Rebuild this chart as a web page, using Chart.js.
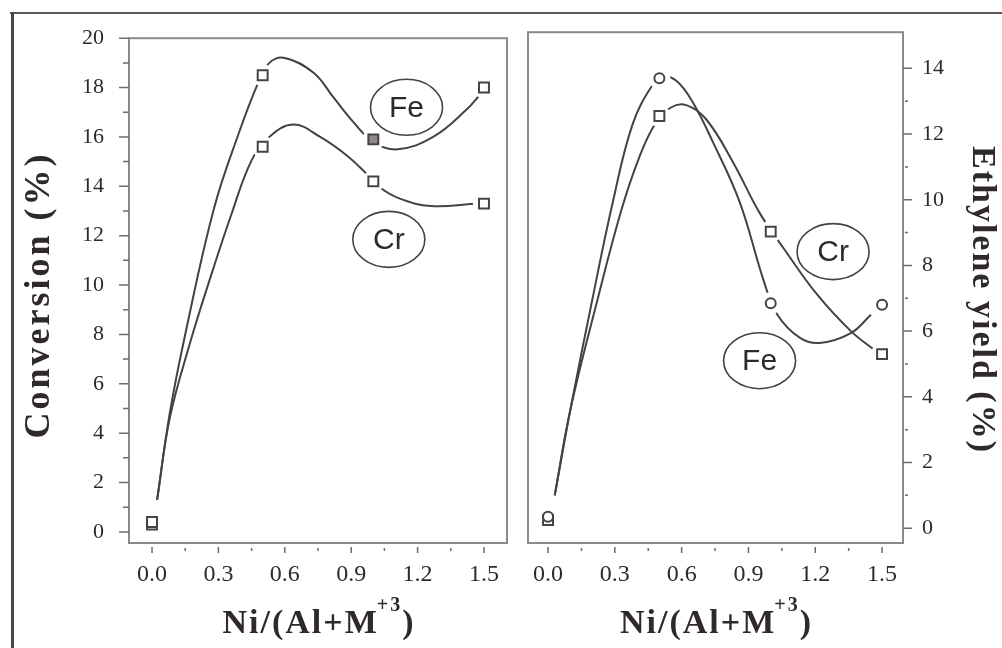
<!DOCTYPE html>
<html lang="en">
<head>
<meta charset="UTF-8">
<title>Conversion and ethylene yield vs Ni/(Al+M+3)</title>
<script src="https://cdn.jsdelivr.net/npm/chart.js"></script>
<style>
  html, body { margin: 0; padding: 0; background: #fff; }
  #wrap { position: relative; width: 1002px; height: 648px; overflow: hidden; background: #fff; }
  .frame-top { position: absolute; left: 10px; top: 12px; width: 992px; height: 2px; background: #5a5558; }
  .frame-left { position: absolute; left: 11px; top: 12px; width: 3px; height: 636px; background: #4a4548; }
  #conv { position: absolute; left: 0; top: 0; }
  #yield { position: absolute; left: 515px; top: 0; }
</style>
</head>
<body>
<div id="wrap">
  <div class="frame-top"></div>
  <div class="frame-left"></div>
  <canvas id="conv" width="520" height="648"></canvas>
  <canvas id="yield" width="487" height="648"></canvas>
</div>
<script>
// Ni/(Al+M+3) ratio of the samples
const ratio = [0.0, 0.5, 1.0, 1.5];
const xTicks = [0.0, 0.3, 0.6, 0.9, 1.2, 1.5];
const convTicks = [0, 2, 4, 6, 8, 10, 12, 14, 16, 18, 20];
const yieldTicks = [0, 2, 4, 6, 8, 10, 12, 14];

// measured points
const convFe = [0.4, 18.5, 15.9, 18.0];
const convCr = [0.3, 15.6, 14.2, 13.3];
const yieldFe = [0.35, 13.7, 6.85, 6.8];
const yieldCr = [0.25, 12.55, 9.03, 5.3];

// hand-drawn trend curves through the points
const convFeCurveX = [0.023, 0.08, 0.15, 0.28, 0.39, 0.48, 0.53, 0.60, 0.73, 0.82, 0.91, 1.00, 1.11, 1.27, 1.42, 1.49];
const convFeCurveY = [1.3, 4.8, 8.0, 13.1, 16.1, 18.2, 19.0, 19.2, 18.6, 17.6, 16.6, 15.8, 15.5, 16.0, 17.1, 17.8];
const convCrCurveX = [0.023, 0.08, 0.17, 0.26, 0.36, 0.45, 0.53, 0.64, 0.76, 0.88, 0.97, 1.03, 1.12, 1.26, 1.47];
const convCrCurveY = [1.3, 4.6, 7.6, 10.2, 12.9, 15.05, 16.0, 16.5, 16.0, 15.25, 14.5, 13.95, 13.5, 13.2, 13.3];
const yieldFeCurveX = [0.03, 0.10, 0.20, 0.29, 0.38, 0.47, 0.52, 0.58, 0.65, 0.74, 0.86, 0.97, 1.03, 1.13, 1.22, 1.36, 1.45];
const yieldFeCurveY = [1.0, 3.6, 7.0, 9.9, 12.3, 13.5, 13.75, 13.6, 12.97, 11.76, 9.94, 7.5, 6.5, 5.8, 5.64, 5.94, 6.5];
const yieldCrCurveX = [0.03, 0.10, 0.22, 0.33, 0.41, 0.48, 0.55, 0.62, 0.71, 0.83, 0.95, 1.06, 1.21, 1.36, 1.47];
const yieldCrCurveY = [1.0, 3.6, 6.9, 9.7, 11.3, 12.3, 12.8, 12.88, 12.45, 11.15, 9.6, 8.5, 7.1, 6.0, 5.4];

// circled series names: [text, x, y]
const convTags = [['Fe', 1.15, 17.2], ['Cr', 1.07, 11.85]];
const yieldTags = [['Cr', 1.28, 8.42], ['Fe', 0.95, 5.1]];

const INK = '#2f292d';
const LINE = '#464244';
const BOX = '#8d898b';
const SERIF = '"Liberation Serif", "Times New Roman", serif';

const pts = (xs, ys) => xs.map((v, i) => ({ x: v, y: ys[i] }));

function marks(xs, ys, style, fill) {
  return {
    data: pts(xs, ys), showLine: false, order: 0,
    pointStyle: style, pointRadius: style === 'rect' ? 7 : 5,
    pointBorderWidth: 2, pointBorderColor: LINE,
    pointBackgroundColor: fill || '#fff'
  };
}
// white clearing round each point so the curves stop short of it
function halo(xs, ys) {
  return {
    data: pts(xs, ys), showLine: false, order: 1,
    pointStyle: 'circle', pointRadius: 11,
    pointBorderWidth: 0, pointBackgroundColor: '#fff'
  };
}
function curve(xs, ys) {
  return {
    data: pts(xs, ys), showLine: true, order: 2,
    pointRadius: 0, borderColor: LINE, borderWidth: 2, tension: 0.4
  };
}

// box, detached tick marks, circled names and axis titles
const panelDecor = {
  id: 'panelDecor',
  afterDraw(chart, args, o) {
    const { ctx, chartArea: a, scales: { x, y } } = chart;
    ctx.save();
    ctx.strokeStyle = BOX;
    ctx.lineWidth = 2;
    ctx.strokeRect(a.left, a.top, a.right - a.left, a.bottom - a.top);

    ctx.strokeStyle = '#6f6a6d';
    ctx.lineWidth = 1.5;
    ctx.beginPath();
    xTicks.forEach((v, i) => {
      const px = x.getPixelForValue(v);
      ctx.moveTo(px, a.bottom + 4); ctx.lineTo(px, a.bottom + 10);
      if (i < xTicks.length - 1) {
        const mx = x.getPixelForValue(v + 0.15);
        ctx.moveTo(mx, a.bottom + 5); ctx.lineTo(mx, a.bottom + 8);
      }
    });
    o.yTicks.forEach((v, i) => {
      const py = y.getPixelForValue(v);
      const my = y.getPixelForValue(v + 1);
      if (o.side === 'left') {
        ctx.moveTo(a.left - 10, py); ctx.lineTo(a.left, py);
        if (i < o.yTicks.length - 1) { ctx.moveTo(a.left - 6, my); ctx.lineTo(a.left, my); }
      } else {
        ctx.moveTo(a.right, py); ctx.lineTo(a.right + 9, py);
        if (i < o.yTicks.length - 1) { ctx.moveTo(a.right + 2, my); ctx.lineTo(a.right + 5, my); }
      }
    });
    ctx.stroke();

    ctx.strokeStyle = LINE;
    ctx.fillStyle = INK;
    ctx.lineWidth = 1.6;
    ctx.font = '30px "Liberation Sans", Arial, sans-serif';
    ctx.textAlign = 'center';
    ctx.textBaseline = 'middle';
    o.tags.forEach(([t, tx, ty]) => {
      const cx = x.getPixelForValue(tx), cy = y.getPixelForValue(ty);
      ctx.beginPath();
      ctx.ellipse(cx, cy, 36, 28, 0, 0, Math.PI * 2);
      ctx.stroke();
      ctx.fillText(t, cx, cy + 1);
    });

    // x title with superscript charge
    const base = 633;
    const cx = (a.left + a.right) / 2 + 2;
    ctx.textAlign = 'left';
    ctx.textBaseline = 'alphabetic';
    ctx.letterSpacing = '2px';
    const big = 'bold 34px ' + SERIF, small = 'bold 20px ' + SERIF;
    ctx.font = big;
    const w1 = ctx.measureText('Ni/(Al+M').width;
    const w3 = ctx.measureText(')').width;
    ctx.font = small;
    const w2 = ctx.measureText('+3').width;
    let tx = cx - (w1 + w2 + w3) / 2;
    ctx.font = big; ctx.fillText('Ni/(Al+M', tx, base); tx += w1;
    ctx.font = small; ctx.fillText('+3', tx - 2, base - 22); tx += w2;
    ctx.font = big; ctx.fillText(')', tx - 2, base);

    // y title
    ctx.save();
    ctx.letterSpacing = o.titleSpacing;
    ctx.font = 'bold ' + o.titleSize + 'px ' + SERIF;
    ctx.textAlign = 'center';
    ctx.textBaseline = 'middle';
    ctx.translate(o.titleX, o.titleY);
    ctx.rotate(o.side === 'left' ? -Math.PI / 2 : Math.PI / 2);
    ctx.fillText(o.title, 0, 0);
    ctx.restore();
    ctx.restore();
  }
};

function baseOptions(xMin, xMax, yMin, yMax, yTickList, side, padding, yWidth, yPad) {
  return {
    responsive: false,
    animation: false,
    events: [],
    layout: { padding },
    plugins: { legend: { display: false }, tooltip: { enabled: false } },
    scales: {
      x: {
        type: 'linear', min: xMin, max: xMax,
        grid: { display: false, drawTicks: false }, border: { display: false },
        afterBuildTicks: s => { s.ticks = xTicks.map(v => ({ value: v })); },
        afterFit: s => { s.height = 105; },
        ticks: { padding: 17, color: INK, font: { family: SERIF, size: 24 }, callback: v => v.toFixed(1) }
      },
      y: {
        type: 'linear', position: side, min: yMin, max: yMax,
        grid: { display: false, drawTicks: false }, border: { display: false },
        afterBuildTicks: s => { s.ticks = yTickList.map(v => ({ value: v })); },
        afterFit: s => { s.width = yWidth; },
        ticks: { padding: yPad, color: INK, font: { family: SERIF, size: 22 } }
      }
    }
  };
}

const convOpts = baseOptions(-0.104, 1.604, -0.45, 20, convTicks, 'left',
  { top: 28, right: 13, left: 0, bottom: 0 }, 129, 25);
convOpts.plugins.panelDecor = {
  side: 'left', yTicks: convTicks, tags: convTags,
  title: 'Conversion (%)', titleX: 40, titleY: 295, titleSize: 36, titleSpacing: '3px'
};
new Chart(document.getElementById('conv'), {
  type: 'scatter',
  data: {
    datasets: [
      marks(ratio, convFe, 'rect', ['#fff', '#fff', '#8e8a8c', '#fff']),
      marks(ratio, convCr, 'rect'),
      halo(ratio, convFe),
      halo(ratio, convCr),
      curve(convFeCurveX, convFeCurveY),
      curve(convCrCurveX, convCrCurveY)
    ]
  },
  options: convOpts,
  plugins: [panelDecor]
});

const yieldOpts = baseOptions(-0.09, 1.594, -0.45, 15.1, yieldTicks, 'right',
  { top: 29, right: 0, left: 13, bottom: 0 }, 99, 19);
yieldOpts.plugins.panelDecor = {
  side: 'right', yTicks: yieldTicks, tags: yieldTags,
  title: 'Ethylene yield (%)', titleX: 467, titleY: 300, titleSize: 34, titleSpacing: '2px'
};
new Chart(document.getElementById('yield'), {
  type: 'scatter',
  data: {
    datasets: [
      marks(ratio, yieldFe, 'circle'),
      marks(ratio, yieldCr, 'rect'),
      halo(ratio, yieldFe),
      halo(ratio, yieldCr),
      curve(yieldFeCurveX, yieldFeCurveY),
      curve(yieldCrCurveX, yieldCrCurveY)
    ]
  },
  options: yieldOpts,
  plugins: [panelDecor]
});
</script>
</body>
</html>
